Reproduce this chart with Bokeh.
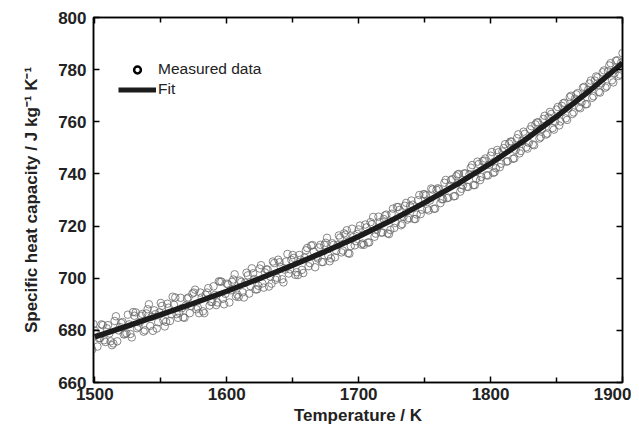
from bokeh.plotting import figure
from bokeh.models import (Range1d, LinearAxis, FixedTicker, Legend, LegendItem,
                          CustomJSTickFormatter)
from bokeh.embed import file_html
from bokeh.resources import INLINE

# ---------------- data ----------------
# Measured data, five interleaved runs
temp_run_a = [1495, 1500, 1505, 1510, 1515, 1520, 1525, 1530, 1535, 1540, 1545, 1550, 1555, 1560,
              1565, 1570, 1575, 1580, 1585, 1590, 1595, 1600, 1605, 1610, 1615, 1620, 1625, 1630,
              1635, 1640, 1645, 1650, 1655, 1660, 1665, 1670, 1675, 1680, 1685, 1690, 1695, 1700,
              1705, 1710, 1715, 1720, 1725, 1730, 1735, 1740, 1745, 1750, 1755, 1760, 1765, 1770,
              1775, 1780, 1785, 1790, 1795, 1800, 1805, 1810, 1815, 1820, 1825, 1830, 1835, 1840,
              1845, 1850, 1855, 1860, 1865, 1870, 1875, 1880, 1885, 1890, 1895, 1900]
cp_run_a = [679.8, 679.9, 682.3, 682.0, 683.6, 682.8, 686.0, 685.6, 685.6, 688.1, 687.7, 690.5,
            690.2, 689.8, 692.5, 692.2, 694.5, 694.5, 694.5, 696.9, 698.7, 697.9, 699.5, 699.1,
            702.1, 701.9, 703.7, 703.4, 706.4, 706.1, 706.4, 708.9, 708.9, 710.7, 712.7, 711.8,
            713.6, 713.4, 716.4, 716.7, 719.0, 718.7, 720.6, 720.7, 723.6, 724.1, 724.7, 727.3,
            727.8, 729.8, 729.9, 732.2, 734.4, 734.5, 736.6, 737.6, 739.8, 740.2, 742.4, 744.7,
            745.1, 747.0, 749.2, 749.9, 752.4, 753.7, 756.2, 757.1, 759.7, 761.1, 763.8, 764.7,
            767.1, 769.5, 770.5, 773.1, 774.7, 777.4, 779.0, 781.6, 783.4, 786.3]

temp_run_b = [1497, 1502, 1507, 1512, 1517, 1522, 1527, 1532, 1537, 1542, 1547, 1552, 1557, 1562,
              1567, 1572, 1577, 1582, 1587, 1592, 1597, 1602, 1607, 1612, 1617, 1622, 1627, 1632,
              1637, 1642, 1647, 1652, 1657, 1662, 1667, 1672, 1677, 1682, 1687, 1692, 1697, 1702,
              1707, 1712, 1717, 1722, 1727, 1732, 1737, 1742, 1747, 1752, 1757, 1762, 1767, 1772,
              1777, 1782, 1787, 1792, 1797, 1802, 1807, 1812, 1817, 1822, 1827, 1832, 1837, 1842,
              1847, 1852, 1857, 1862, 1867, 1872, 1877, 1882, 1887, 1892, 1897]
cp_run_b = [673.9, 673.8, 676.2, 675.8, 675.8, 678.4, 678.6, 680.8, 679.5, 681.7, 680.7, 683.8,
            683.6, 686.2, 685.0, 686.6, 688.1, 687.3, 689.5, 689.7, 692.1, 690.7, 693.0, 694.6,
            694.1, 695.7, 698.0, 696.8, 699.4, 699.6, 701.8, 701.3, 703.2, 704.6, 704.2, 706.2,
            708.7, 708.0, 709.9, 709.6, 712.6, 712.9, 713.7, 715.9, 717.5, 717.2, 719.3, 720.3,
            722.5, 722.7, 724.6, 726.6, 726.6, 728.8, 730.7, 731.4, 733.2, 735.1, 735.7, 737.6,
            739.5, 740.4, 742.6, 744.7, 745.8, 747.9, 750.2, 751.3, 753.6, 755.1, 757.6, 758.6,
            761.3, 763.0, 765.6, 766.7, 769.2, 771.5, 773.1, 775.9, 777.6]

temp_run_c = [1499, 1504, 1509, 1514, 1519, 1524, 1529, 1534, 1539, 1544, 1549, 1554, 1559, 1564,
              1569, 1574, 1579, 1584, 1589, 1594, 1599, 1604, 1609, 1614, 1619, 1624, 1629, 1634,
              1639, 1644, 1649, 1654, 1659, 1664, 1669, 1674, 1679, 1684, 1689, 1694, 1699, 1704,
              1709, 1714, 1719, 1724, 1729, 1734, 1739, 1744, 1749, 1754, 1759, 1764, 1769, 1774,
              1779, 1784, 1789, 1794, 1799, 1804, 1809, 1814, 1819, 1824, 1829, 1834, 1839, 1844,
              1849, 1854, 1859, 1864, 1869, 1874, 1879, 1884, 1889, 1894, 1899]
cp_run_c = [682.4, 677.0, 680.8, 675.0, 681.3, 678.9, 687.0, 683.0, 686.5, 679.8, 686.9, 683.3,
            692.9, 686.7, 689.5, 694.1, 686.6, 693.7, 690.9, 698.8, 694.0, 698.6, 692.8, 698.3,
            703.8, 697.1, 702.2, 697.9, 707.1, 703.3, 707.0, 701.2, 707.9, 712.5, 707.6, 712.7,
            707.6, 712.7, 717.2, 712.3, 717.0, 712.8, 721.5, 718.7, 722.7, 718.5, 727.3, 723.6,
            727.7, 724.4, 732.2, 729.8, 733.9, 730.3, 735.5, 739.1, 735.6, 739.8, 738.1, 744.9,
            743.5, 742.2, 748.6, 751.7, 749.2, 752.6, 751.9, 759.0, 757.2, 761.6, 760.0, 766.1,
            765.1, 768.9, 767.5, 772.3, 775.8, 774.7, 779.4, 778.7, 782.7]

temp_run_d = [1496, 1501, 1506, 1511, 1516, 1521, 1526, 1531, 1536, 1541, 1546, 1551, 1556, 1561,
              1566, 1571, 1576, 1581, 1586, 1591, 1596, 1601, 1606, 1611, 1616, 1621, 1626, 1631,
              1636, 1641, 1646, 1651, 1656, 1661, 1666, 1671, 1676, 1681, 1686, 1691, 1696, 1701,
              1706, 1711, 1716, 1721, 1726, 1731, 1736, 1741, 1746, 1751, 1756, 1761, 1766, 1771,
              1776, 1781, 1786, 1791, 1796, 1801, 1806, 1811, 1816, 1821, 1826, 1831, 1836, 1841,
              1846, 1851, 1856, 1861, 1866, 1871, 1876, 1881, 1886, 1891, 1896]
cp_run_d = [681.7, 679.0, 682.0, 678.8, 685.4, 683.2, 682.3, 686.9, 686.3, 690.0, 686.2, 689.4,
            688.7, 692.6, 688.5, 692.6, 695.6, 692.6, 696.2, 693.6, 698.7, 697.6, 701.5, 698.6,
            701.1, 699.7, 705.0, 703.3, 705.8, 704.2, 709.3, 707.8, 707.1, 711.6, 710.2, 712.8,
            715.5, 712.8, 715.6, 718.4, 715.8, 720.2, 719.5, 723.5, 721.5, 724.4, 726.7, 726.2,
            728.9, 728.2, 731.9, 731.8, 734.0, 734.1, 737.7, 738.0, 740.0, 740.2, 743.4, 743.8,
            745.9, 748.4, 748.3, 751.4, 752.4, 755.2, 755.4, 758.3, 759.8, 762.3, 763.0, 765.7,
            767.3, 770.0, 771.0, 773.4, 775.8, 777.0, 779.7, 782.5, 783.6]

temp_run_e = [1498, 1503, 1508, 1513, 1518, 1523, 1528, 1533, 1538, 1543, 1548, 1553, 1558, 1563,
              1568, 1573, 1578, 1583, 1588, 1593, 1598, 1603, 1608, 1613, 1618, 1623, 1628, 1633,
              1638, 1643, 1648, 1653, 1658, 1663, 1668, 1673, 1678, 1683, 1688, 1693, 1698, 1703,
              1708, 1713, 1718, 1723, 1728, 1733, 1738, 1743, 1748, 1753, 1758, 1763, 1768, 1773,
              1778, 1783, 1788, 1793, 1798, 1803, 1808, 1813, 1818, 1823, 1828, 1833, 1838, 1843,
              1848, 1853, 1858, 1863, 1868, 1873, 1878, 1883, 1888, 1893, 1898]
cp_run_e = [672.6, 677.0, 675.5, 674.3, 680.0, 678.6, 677.3, 681.4, 680.0, 685.2, 683.1, 681.5,
            686.2, 684.8, 684.8, 689.3, 688.8, 686.6, 690.9, 690.7, 690.0, 695.4, 693.7, 692.6,
            697.0, 695.7, 696.4, 700.6, 700.2, 698.4, 703.4, 702.3, 702.0, 705.8, 708.3, 706.2,
            706.5, 710.5, 710.6, 709.4, 714.2, 713.3, 713.7, 717.1, 717.5, 716.9, 721.2, 720.8,
            723.1, 722.7, 726.3, 726.0, 726.7, 730.3, 730.9, 731.5, 734.3, 735.0, 735.7, 738.8,
            739.4, 740.7, 743.9, 744.9, 746.0, 748.8, 749.7, 751.0, 754.1, 755.5, 757.0, 760.1,
            760.7, 763.6, 765.2, 766.8, 769.8, 771.2, 773.6, 775.1, 778.1]

# Fit curve
temp_fit = [1500, 1525, 1550, 1575, 1600, 1625, 1650, 1675, 1700, 1725, 1750, 1775, 1800,
            1825, 1850, 1875, 1900]
cp_fit = [677.5, 681.7, 686.0, 690.4, 695.0, 699.9, 705.0, 710.3, 716.0, 722.2, 729.0, 736.2,
          744.0, 752.6, 762.0, 771.9, 782.5]

x_ticks = [1500, 1600, 1700, 1800, 1900]
x_minor_ticks = [1550, 1650, 1750, 1850]
y_ticks = [660, 680, 700, 720, 740, 760, 780, 800]

x_label = "Temperature / K"
y_label = "Specific heat capacity / J kg\u207b\u00b9 K\u207b\u00b9"
legend_labels = ["Measured data", "Fit"]

# ---------------- figure ----------------
FONT = "Liberation Sans"

p = figure(width=631, height=427, output_backend="svg", toolbar_location=None,
           x_range=Range1d(1499, 1900), y_range=Range1d(660, 800),
           min_border_left=93, min_border_right=9, min_border_top=17, min_border_bottom=45)
p.grid.visible = False
p.outline_line_color = "black"
p.outline_line_width = 1.5
p.background_fill_color = "white"
p.border_fill_color = "white"

meas_style = dict(marker="circle", size=7.5, fill_color=None, line_color="#6a6a6a",
                  line_width=0.8)
for tx, cy in [(temp_run_a, cp_run_a), (temp_run_b, cp_run_b), (temp_run_c, cp_run_c),
               (temp_run_d, cp_run_d), (temp_run_e, cp_run_e)]:
    p.scatter(tx, cy, **meas_style)

p.line(temp_fit, cp_fit, line_color="#1c1c1c", line_width=5.5)

# legend proxies (points placed outside the visible range)
legend_marker = p.scatter(x=[1000], y=[0], marker="circle", size=10, fill_color=None,
                          line_color="black", line_width=2.5)
legend_line = p.line(x=[1000, 1001], y=[0, 0], line_color="#1c1c1c", line_width=5)

legend = Legend(items=[LegendItem(label=legend_labels[0], renderers=[legend_marker]),
                       LegendItem(label=legend_labels[1], renderers=[legend_line])],
                location=(25, 284), padding=0, margin=0, spacing=2,
                glyph_width=38, glyph_height=17, label_height=17, label_standoff=2,
                label_text_font=FONT, label_text_font_size="15.5px", label_text_color="#222222",
                border_line_color=None, background_fill_alpha=0)
p.add_layout(legend, "center")

blank = CustomJSTickFormatter(code="return ''")

def style_axis(ax, ticks, minor=None):
    ax.ticker = FixedTicker(ticks=ticks, minor_ticks=minor or [])
    ax.axis_line_width = 1.5
    ax.axis_line_color = "black"
    ax.major_tick_in = 6
    ax.major_tick_out = 0
    ax.minor_tick_in = 5
    ax.minor_tick_out = 0
    ax.major_tick_line_width = 1.5
    ax.minor_tick_line_width = 1.5
    ax.major_label_text_font = FONT
    ax.major_label_text_font_style = "bold"
    ax.major_label_text_font_size = "17px"
    ax.major_label_text_color = "#222222"
    ax.axis_label_text_font = FONT
    ax.axis_label_text_font_style = "bold"
    ax.axis_label_text_font_size = "17px"
    ax.axis_label_text_color = "#222222"

xa = p.xaxis[0]
style_axis(xa, x_ticks, x_minor_ticks)
xa.axis_label = x_label
xa.major_label_standoff = 5
xa.axis_label_standoff = 3

ya = p.yaxis[0]
style_axis(ya, y_ticks)
ya.axis_label = y_label
ya.major_label_standoff = 7
ya.axis_label_standoff = 14

ra = LinearAxis()
style_axis(ra, y_ticks)
ra.formatter = blank
ra.major_label_standoff = 0
p.add_layout(ra, "right")

ta = LinearAxis()
style_axis(ta, x_ticks, x_minor_ticks)
ta.formatter = blank
ta.major_label_standoff = 0
p.add_layout(ta, "above")

open("out.html", "w").write(file_html(p, INLINE))
